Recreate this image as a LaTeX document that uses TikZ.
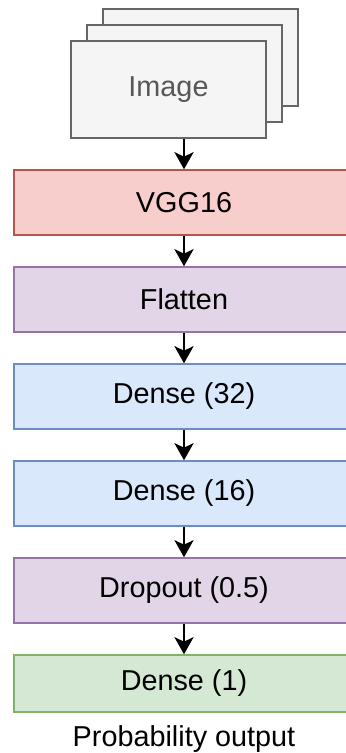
\documentclass[tikz,border=0pt]{standalone}
\usepackage{fontspec}
\setmainfont{Liberation Sans}
\usetikzlibrary{positioning,arrows.meta}

% draw.io palette
\definecolor{grayfill}{HTML}{F5F5F5}
\definecolor{grayline}{HTML}{666666}
\definecolor{redfill}{HTML}{F8CECC}
\definecolor{redline}{HTML}{B85450}
\definecolor{purplefill}{HTML}{E1D5E7}
\definecolor{purpleline}{HTML}{9673A6}
\definecolor{bluefill}{HTML}{DAE8FC}
\definecolor{blueline}{HTML}{6C8EBF}
\definecolor{greenfill}{HTML}{D5E8D4}
\definecolor{greenline}{HTML}{82B366}

\tikzset{
    layer/.style={draw, line width=0.75pt, minimum width=170pt, minimum height=32.5pt,
        inner sep=0pt, font=\fontsize{14.4pt}{16pt}\selectfont},
    sheet/.style={draw=grayline, fill=grayfill, line width=0.75pt,
        minimum width=97.5pt, minimum height=48.5pt, inner sep=0pt},
    flow/.style={-{Stealth[length=8.5pt, width=9.5pt, inset=2.2pt]}, line width=1.4pt}
}

\begin{document}
\begin{tikzpicture}
    \useasboundingbox (0,0) rectangle (172.5pt,-376.5pt);

    % Input images (stacked sheets)
    \node [sheet] (img3) at (100.25pt,-28.75pt) {};
    \node [sheet] (img2) at (92.25pt,-36.75pt) {};
    \node [sheet, text=grayline!85!black, font=\fontsize{14.4pt}{16pt}\selectfont] (img) at (84.25pt,-44.75pt) {Image};

    % Network layers (gap is measured from the outer edge of the border)
    \node [layer, draw=redline, fill=redfill] (vgg) at (92pt,-101.25pt) {VGG16};
    \node [layer, draw=purpleline, fill=purplefill, below=15.25pt of vgg] (flatten) {Flatten};
    \node [layer, draw=blueline, fill=bluefill, below=15.25pt of flatten] (dense32) {Dense (32)};
    \node [layer, draw=blueline, fill=bluefill, below=15.25pt of dense32] (dense16) {Dense (16)};
    \node [layer, draw=purpleline, fill=purplefill, below=15.25pt of dense16] (dropout) {Dropout (0.5)};
    \node [layer, draw=greenline, fill=greenfill, minimum height=28.5pt, below=15.25pt of dropout] (dense1) {Dense (1)};

    % Output label
    \node [anchor=base, inner sep=0pt, font=\fontsize{14.4pt}{16pt}\selectfont]
        (out) at ([yshift=-17pt]dense1.south) {Probability output};

    % Connections
    \draw [flow] (vgg.north |- img.south) -- (vgg);
    \draw [flow] (vgg) -- (flatten);
    \draw [flow] (flatten) -- (dense32);
    \draw [flow] (dense32) -- (dense16);
    \draw [flow] (dense16) -- (dropout);
    \draw [flow] (dropout) -- (dense1);
\end{tikzpicture}
\end{document}
